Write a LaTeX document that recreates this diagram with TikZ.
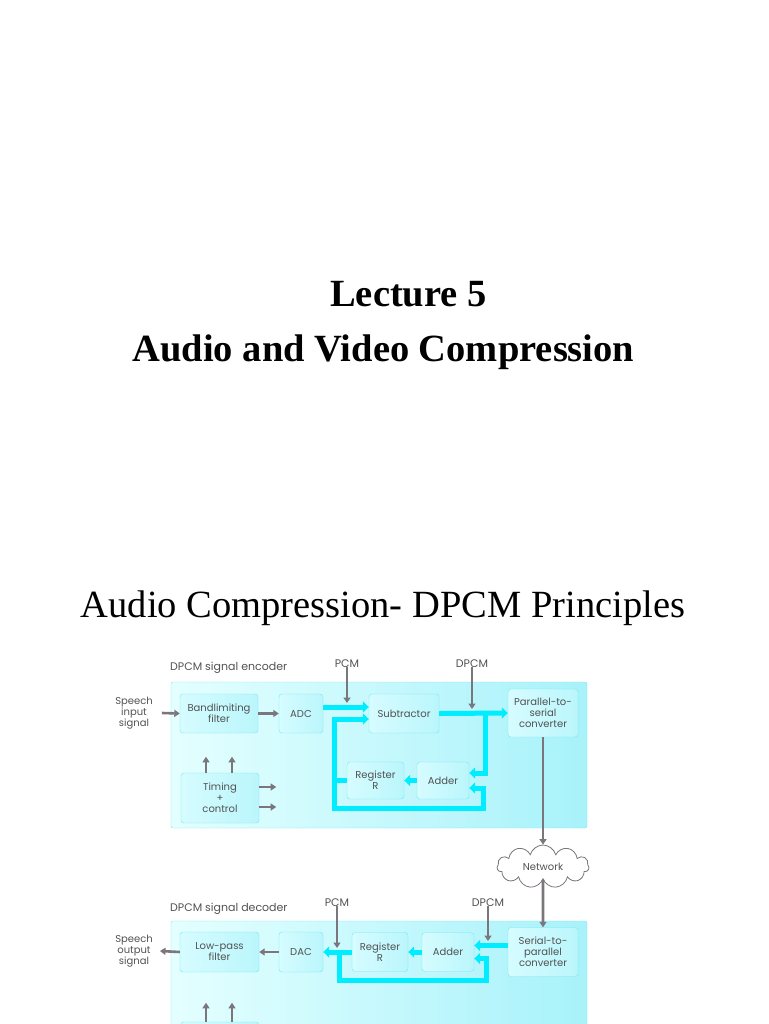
\documentclass[tikz,border=0pt]{standalone}
\usepackage{fontspec}
\setmainfont{Liberation Serif}
\newfontfamily\diagfont{Poppins}
\usetikzlibrary{arrows.meta,shapes.symbols}

\definecolor{boxedge}{RGB}{120,230,244}
\definecolor{boxlo}{RGB}{214,252,255}
\definecolor{boxhi}{RGB}{186,246,252}
\definecolor{outleft}{RGB}{228,255,255}
\definecolor{outright}{RGB}{168,242,250}
\definecolor{flowcol}{RGB}{0,236,255}
\definecolor{sigcol}{RGB}{122,118,124}
\definecolor{txt}{RGB}{82,82,82}

\tikzset{
  blk/.style={draw=boxedge, rounded corners=3pt, left color=boxlo, right color=boxhi,
    text=txt, font=\diagfont\fontsize{10}{11}\selectfont, align=center, inner sep=0pt},
  outer/.style={draw=boxedge, rounded corners=2pt, left color=outleft, right color=outright, inner sep=0pt},
  lbl/.style={text=txt, font=\diagfont\fontsize{11}{11}\selectfont, inner sep=0pt, anchor=base},
  side/.style={text=txt, font=\diagfont\fontsize{10}{11}\selectfont, inner sep=0pt, anchor=center, align=center},
  sig/.style={draw=sigcol, line width=2.6pt, -{Triangle[length=5.5pt,width=7pt]}},
  flow/.style={draw=flowcol, line width=5pt, -{Triangle[length=6pt,width=11pt]}},
  flowtwo/.style={draw=flowcol, line width=5pt, {Triangle[length=6pt,width=11pt]}-{Triangle[length=6pt,width=11pt]}},
  heading/.style={inner sep=0pt, anchor=base, font=\fontsize{38.5}{46}\selectfont}
}

\begin{document}
\begin{tikzpicture}[x=1pt, y=-1pt]
  \useasboundingbox (0,0) rectangle (768,1024);
  \clip (0,0) rectangle (768,1024);
  % \draw[help lines, gray!50, very thin] (0,0) grid[step=50] (768,1024);

  \node[heading] (lect) at (408.5,306) {\textbf{Lecture 5}};
  \node[heading] (avc) at (383.5,361) {\textbf{Audio and Video Compression}};
  \node[heading] (sub) at (383,617) {Audio Compression- DPCM Principles};

  % encoder
  \node[outer, minimum width=416pt, minimum height=146pt] (encbox) at (379,755) {};
  \node[lbl, anchor=base west] (enclbl) at (170,670) {DPCM signal encoder};
  \node[lbl] (pcmE) at (347,667) {PCM};
  \node[lbl] (dpcmE) at (472,667) {DPCM};
  \node[side] (spin) at (134,713) {Speech\\input\\signal};

  \node[blk, minimum width=78pt, minimum height=39pt] (bandf) at (219,713.5) {Bandlimiting\\filter};
  \node[blk, minimum width=44pt, minimum height=39pt] (adc) at (301,713.5) {ADC};
  \node[blk, minimum width=70pt, minimum height=39pt] (subt) at (404,713.5) {Subtractor};
  \node[blk, minimum width=70pt, minimum height=48pt] (p2s) at (543,713) {Parallel-to-\\serial\\converter};
  \node[blk, minimum width=78pt, minimum height=50pt] (timenc) at (220,798) {Timing\\+\\control};
  \node[blk, minimum width=57pt, minimum height=37pt] (regenc) at (375.5,780.5) {Register\\R};
  \node[blk, minimum width=52pt, minimum height=37pt] (addenc) at (443,780.5) {Adder};

  \coordinate (pcmEtip) at (347,703);
  \coordinate (dpcmEtip) at (472,709);
  \coordinate (eLt) at (334,719);
  \coordinate (eLb) at (334,808);
  \coordinate (eRb) at (483,808);
  \coordinate (eRt) at (485,713);

  \draw[sig] ([xshift=9pt]spin.east) -- (bandf.west);
  \draw[sig] (bandf.east) -- (adc.west);
  \draw[flow] ([yshift=6.5pt]adc.east) -- ([yshift=6.5pt]subt.west);
  \draw[flow] (subt.east) -- (p2s.west);
  \draw[flow] (eRt) |- ([yshift=7.5pt]addenc.east);
  \draw[flowtwo] (eLt -| subt.west) -- (eLt) -- (eLb) -- (eRb) |- ([yshift=-7.5pt]addenc.east);
  \draw[draw=flowcol, line width=5pt] (regenc.west) -- (regenc.west -| eLt);
  \draw[flow] (addenc.west) -- (regenc.east);
  \draw[sig] (pcmE.south) -- (pcmEtip);
  \draw[sig] (dpcmE.south) -- (dpcmEtip);
  \draw[sig] ([xshift=-14pt]timenc.north) -- ++(0,-16);
  \draw[sig] ([xshift=12pt]timenc.north) -- ++(0,-16);
  \draw[sig] ([yshift=11pt]timenc.east) -- ++(17,0);
  \draw[sig] ([yshift=-9pt]timenc.east) -- ++(17,0);

  % network
  \node[cloud, cloud puffs=11, aspect=2.3, draw=sigcol, fill=white, thick, inner sep=0pt,
    minimum width=92pt, minimum height=43pt, text=txt, font=\diagfont\fontsize{10}{10}\selectfont] (net) at (543,866.5) {Network};
  \draw[sig] (p2s.south) -- (net.north);

  % decoder
  \node[outer, minimum width=416pt, minimum height=130pt] (decbox) at (379,986) {};
  \node[lbl, anchor=base west] (declbl) at (170,911) {DPCM signal decoder};
  \node[lbl] (pcmD) at (337,906) {PCM};
  \node[lbl] (dpcmD) at (488,906) {DPCM};
  \node[side] (spout) at (134,951) {Speech\\output\\signal};

  \node[blk, minimum width=79pt, minimum height=40pt] (lpf) at (219.5,952) {Low-pass\\filter};
  \node[blk, minimum width=44pt, minimum height=40pt] (dac) at (301,952) {DAC};
  \node[blk, minimum width=56pt, minimum height=39pt] (regdec) at (380,952) {Register\\R};
  \node[blk, minimum width=52pt, minimum height=39pt] (adddec) at (448,952) {Adder};
  \node[blk, minimum width=70pt, minimum height=49pt] (s2p) at (543,952) {Serial-to-\\parallel\\converter};
  \node[blk, minimum width=78pt, minimum height=50pt] (timdec) at (220,1047) {Timing\\+\\control};

  \coordinate (pcmDtip) at (337,948);
  \coordinate (dpcmDtip) at (488,941);
  \coordinate (dLb) at (339,980);
  \coordinate (dRb) at (486,980);

  \draw[sig] (net.south) -- (s2p.north);
  \draw[flow] ([yshift=6.5pt]s2p.west) -- ([yshift=6.5pt]adddec.east);
  \draw[flow] (adddec.west) -- (regdec.east);
  \draw[flow] (regdec.west) -- (dac.east);
  \draw[flow] (regdec.west -| dLb) -- (dLb) -- (dRb) |- ([yshift=-6.5pt]adddec.east);
  \draw[sig] (pcmD.south) -- (pcmDtip);
  \draw[sig] (dpcmD.south) -- (dpcmDtip);
  \draw[sig] (dac.west) -- (lpf.east);
  \draw[sig] (lpf.west) -- ([xshift=7pt]spout.east);
  \draw[sig] ([xshift=-14pt]timdec.north) -- ++(0,-19);
  \draw[sig] ([xshift=12pt]timdec.north) -- ++(0,-19);
\end{tikzpicture}
\end{document}
